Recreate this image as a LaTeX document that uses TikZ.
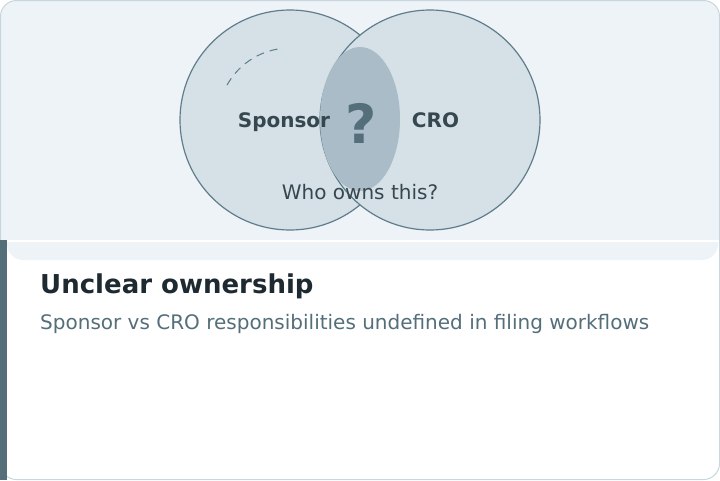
\documentclass[tikz,border=0pt]{standalone}
\usepackage{fontspec}
\setmainfont{DejaVu Sans}
\usetikzlibrary{shapes.geometric}

\definecolor{band}{HTML}{EEF3F7}
\definecolor{edge}{HTML}{C8D7DF}
\definecolor{ring}{HTML}{607D8B}
\definecolor{disc}{HTML}{D5E1E7}
\definecolor{lens}{HTML}{A9BCC7}
\definecolor{ink}{HTML}{37474F}
\definecolor{slate}{HTML}{546E7A}
\definecolor{head}{HTML}{1E2A32}

\begin{document}
\begin{tikzpicture}[x=1pt,y=-1pt, set/.style={circle, draw=ring, fill=disc, line width=1.2pt, minimum size=220pt, inner sep=0pt}, lbl/.style={text=ink, font=\fontsize{20}{24}\selectfont\bfseries, anchor=base}]
            \useasboundingbox (0,0) rectangle (720,480);
            % card
            \begin{scope}
              \clip[rounded corners=16pt] (0.5,0.5) rectangle (719.5,479.5);
              \fill[band] (0,0) rectangle (720,240);
              \fill[band, rounded corners=16pt] (7,200) rectangle (718,260);
              \fill[white] (0,240.3) rectangle (720,242);
            \end{scope}
            \draw[edge, line width=1pt, rounded corners=16pt] (0.5,0.5) rectangle (719.5,479.5);
            \fill[slate] (0,240) rectangle (7,480);
            % venn
            \node[set] (sponsor) at (290,120) {};
            \node[set] (cro) at (430,120) {};
            \node[ellipse, fill=lens, minimum width=80pt, minimum height=144pt, inner sep=0pt] (both) at (360,119) {};
            \draw[ring, line width=1pt, dash pattern=on 8pt off 6pt] (sponsor.center) ++(-151:72) arc[start angle=-151, end angle=-100, radius=72];
            \node[lbl] (s) at (284,127) {Sponsor};
            \node[lbl] (c) at (435.5,127) {CRO};
            \node[text=slate, font=\fontsize{54}{60}\selectfont\bfseries, anchor=base] (q) at (361.5,143) {?};
            \node[text=ink, font=\fontsize{20}{24}\selectfont, anchor=base] (who) at (360,199) {Who owns this?};
            % text
            \node[text=head, font=\fontsize{26}{30}\selectfont\bfseries, anchor=base west, inner sep=0pt] (title) at (40,293) {Unclear ownership};
            \node[text=slate, font=\fontsize{20}{24}\selectfont, anchor=base west, inner sep=0pt] (sub) at (40,329) {Sponsor vs CRO responsibilities undefined in filing workflows};
        \end{tikzpicture}
\end{document}
